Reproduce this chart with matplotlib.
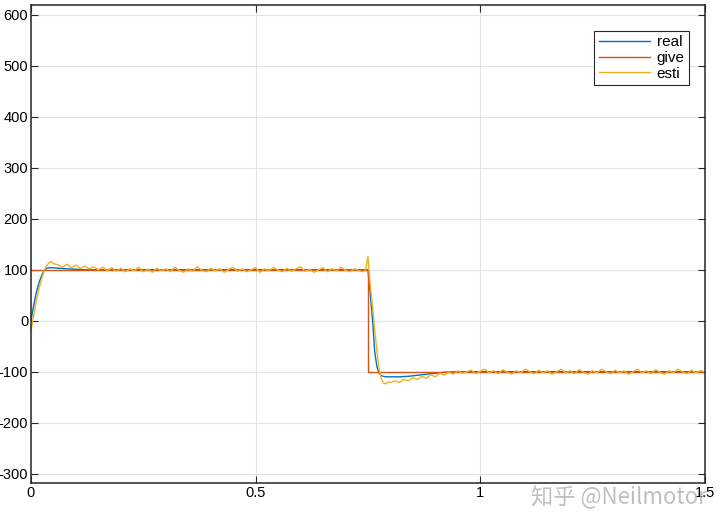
import numpy as np
import matplotlib
matplotlib.use('Agg')
import matplotlib.pyplot as plt

# colores estilo MATLAB
COLOR_REAL = '#0072BD'
COLOR_GIVE = '#D95319'
COLOR_ESTI = '#EDB120'

# consigna (escalon)
t_give = [0.0, 0.75, 0.75, 1.5]
give = [100, 100, -100, -100]

# velocidad real (suave)
t_real = [0.0, 0.005, 0.01, 0.015, 0.02, 0.025, 0.03, 0.035, 0.04, 0.05, 0.06,
          0.08, 0.10, 0.12, 0.15, 0.75, 0.755, 0.76, 0.765, 0.77, 0.775, 0.78,
          0.79, 0.80, 0.82, 0.84, 0.86, 0.88, 0.90, 0.92, 0.95, 1.0, 1.5]
real = [0, 25, 48, 66, 80, 91, 99, 103, 104, 104, 103,
        102, 101, 100, 100, 100, 55, 5, -60, -90, -103, -108,
        -110, -110, -110, -109, -107, -105, -103, -101, -100, -100, -100]

# velocidad estimada (con ruido)
t_esti_a = np.round(np.arange(0.0, 0.0501, 0.005), 3)
esti_a = [-20, 5, 30, 52, 70, 86, 99, 108, 114, 116, 112]

t_esti_b = np.round(np.arange(0.06, 0.7401, 0.01), 3)
esti_b = [110, 105, 111, 104, 109, 103, 107, 102, 106, 100, 105, 98, 104, 97, 103,
          96, 102, 98, 105, 96, 101, 95, 103, 98, 102, 96, 105, 99, 95, 102,
          97, 106, 99, 96, 103, 98, 102, 95, 101, 105, 97, 102, 96, 100, 104,
          95, 102, 98, 105, 99, 96, 103, 97, 102, 106, 97, 101, 95, 100, 104,
          96, 102, 98, 105, 99, 96, 102, 98, 96]

t_esti_c = np.round(np.arange(0.745, 0.8001, 0.005), 3)
esti_c = [101, 126, 72, 30, -15, -60, -95, -115, -122, -124, -120, -121]

t_esti_d = np.round(np.arange(0.81, 1.5001, 0.01), 3)
esti_d = [-118, -121, -115, -118, -112, -115, -109, -113, -106, -110,
          -103, -107, -101, -105, -98, -103, -100, -97, -104, -99,
          -95, -102, -98, -104, -96, -101, -105, -98, -102, -95,
          -100, -104, -97, -102, -98, -105, -100, -95, -102, -98,
          -104, -96, -101, -105, -98, -102, -95, -100, -104, -97,
          -102, -98, -105, -100, -95, -102, -98, -104, -96, -101,
          -105, -98, -102, -95, -100, -104, -97, -102, -98, -100]

t_esti = np.concatenate([t_esti_a, t_esti_b, t_esti_c, t_esti_d])
esti = np.concatenate([esti_a, esti_b, esti_c, esti_d])

plt.rcParams['font.family'] = ['Liberation Sans', 'DejaVu Sans']
plt.rcParams['axes.unicode_minus'] = False

fig = plt.figure(figsize=(7.2, 5.3), dpi=100)
ax = fig.add_axes([0.043, 0.089, 0.936, 0.902])

ax.plot(t_real, real, color=COLOR_REAL, linewidth=1.0, label='real')
ax.plot(t_give, give, color=COLOR_GIVE, linewidth=1.0, label='give')
ax.plot(t_esti, esti, color=COLOR_ESTI, linewidth=1.0, label='esti')

ax.set_xlim(0, 1.5)
ax.set_ylim(-318, 620)
ax.set_xticks([0, 0.5, 1, 1.5])
ax.set_xticklabels(['0', '0.5', '1', '1.5'])
ax.set_yticks(np.arange(-300, 601, 100))
ax.tick_params(direction='in', length=5, width=0.8, labelsize=10.5, pad=2,
               top=True, right=True, colors='#262626', labelcolor='black')
ax.grid(True, color='#e3e3e3', linewidth=0.8)
ax.set_axisbelow(True)
for s in ax.spines.values():
    s.set_linewidth(1.1)
    s.set_color('#262626')

leg = ax.legend(loc='upper right', bbox_to_anchor=(0.988, 0.962), fontsize=11,
                handlelength=3.4, fancybox=False, framealpha=1,
                edgecolor='#262626', borderpad=0.3, labelspacing=0.12,
                handletextpad=0.4)
leg.get_frame().set_linewidth(0.8)

# marca de agua
fig.text(0.737, 0.062, '知乎 @Neilmotor', fontsize=16, color='#b0b0b0',
         alpha=0.8, va='center', ha='left',
         family=['Noto Sans CJK SC', 'DejaVu Sans'], zorder=0)

fig.savefig('out.png', dpi=100)
